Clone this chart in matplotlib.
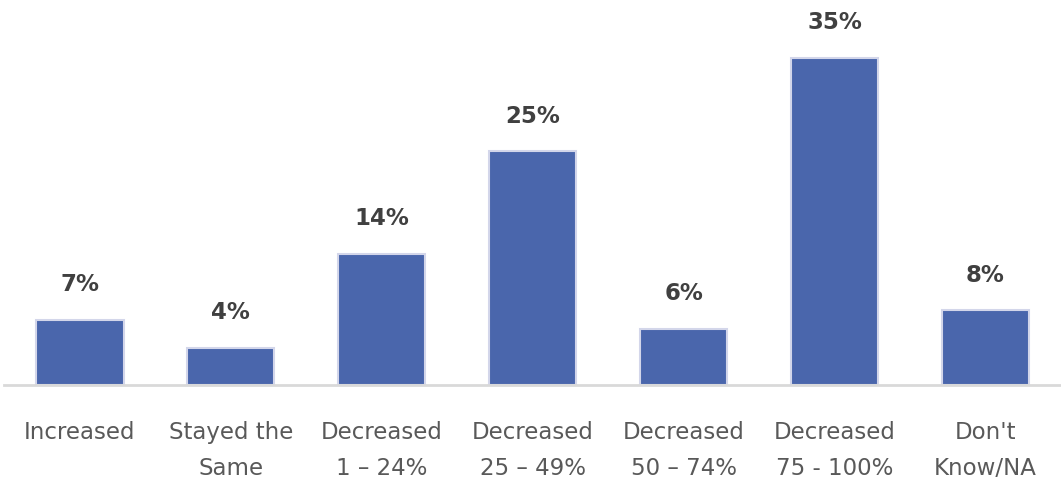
import matplotlib.pyplot as plt
import numpy as np

categories = ["Increased", "Stayed the\nSame", "Decreased\n1 \u2013 24%", "Decreased\n25 \u2013 49%",
              "Decreased\n50 \u2013 74%", "Decreased\n75 - 100%", "Don't\nKnow/NA"]
values = [7, 4, 14, 25, 6, 35, 8]

plt.rcParams['font.family'] = ['DejaVu Sans']

fig = plt.figure(figsize=(10.61, 4.84), dpi=100)
ax = fig.add_axes([0.004, 0.2045, 0.996, 0.773])

x = np.arange(len(categories))
bars = ax.bar(x, values, width=0.58, color='#4a66ac', edgecolor='#d3d6ea', linewidth=1.5, zorder=2)

for xi, v in zip(x, values):
    ax.annotate(f"{v}%", (xi, v), xytext=(0, 17), textcoords='offset points',
                ha='center', va='bottom', fontsize=16.5, fontweight='bold', color='#404040')

ax.set_xlim(-0.5, 6.5)
ax.set_ylim(0, 40)
ax.set_xticks(x)
ax.set_xticklabels(categories, fontsize=16.5, color='#595959', linespacing=1.7)
ax.tick_params(axis='x', length=0, pad=26)
ax.set_yticks([])
for s in ['top', 'left', 'right']:
    ax.spines[s].set_visible(False)
ax.spines['bottom'].set_color('#d9d9d9')
ax.spines['bottom'].set_linewidth(2)

fig.savefig("out.png", dpi=100)
